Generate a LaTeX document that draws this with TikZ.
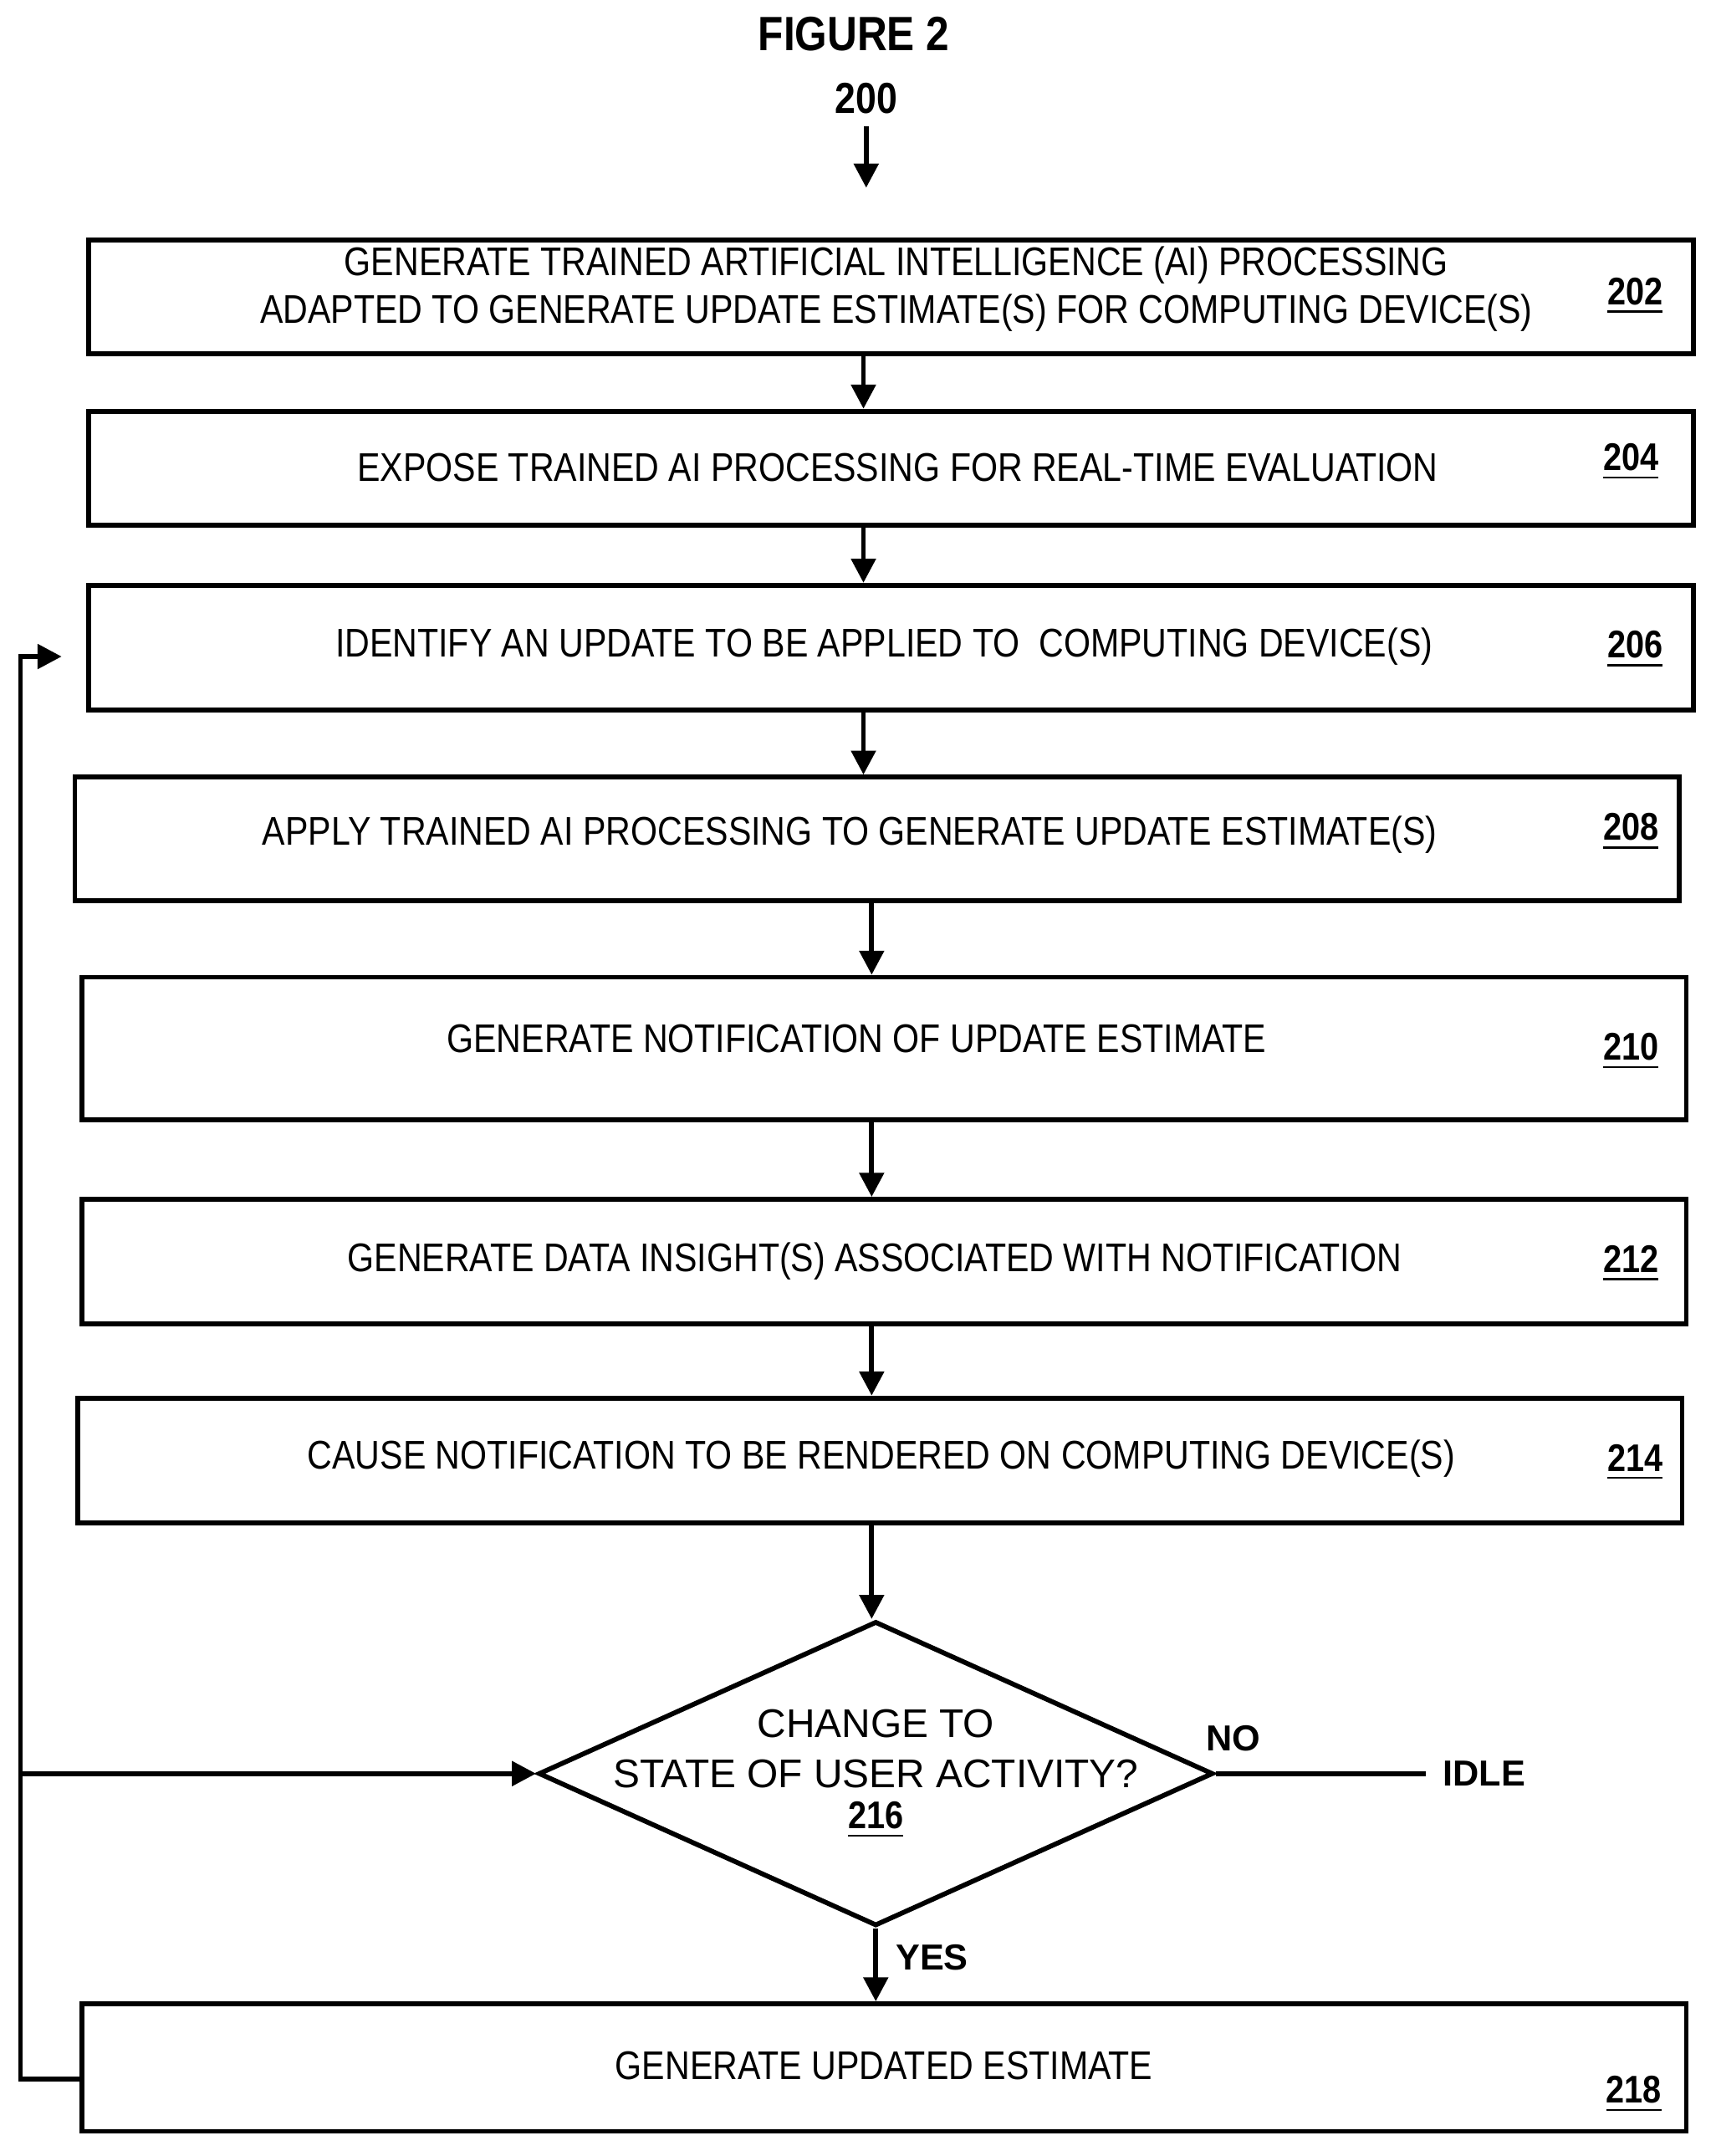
\documentclass[tikz,border=0pt]{standalone}
\usepackage{fontspec}
\setmainfont{Liberation Sans}
\newfontfamily\cond[FakeStretch=0.86]{Liberation Sans}
\usetikzlibrary{shapes.geometric,arrows.meta}
\begin{document}
\begin{tikzpicture}[x=0.01cm,y=-0.01cm,
  box/.style={draw,line width=1pt,rectangle,inner sep=0pt},
  txt/.style={font=\cond\fontsize{8.3}{10}\selectfont,align=center,inner sep=0pt},
  lab/.style={font=\cond\bfseries\fontsize{8}{10}\selectfont,inner sep=0pt},
  arr/.style={line width=1pt,-{Triangle[length=5pt,width=5pt]}}]
\useasboundingbox (0,0) rectangle (1252,1573);
\node[font=\bfseries\cond\fontsize{10}{12}\selectfont] (title) at (623,25) {FIGURE 2};
\node[font=\bfseries\cond\fontsize{9}{11}\selectfont] (n200) at (632,72) {200};
\coordinate (s0) at (632,92);
\node[box,minimum width=1170\pgflinewidth/1pt*0.01cm*0+11.7cm,minimum height=0.83cm] (b202) at (650,216.5) {};
\node[box,minimum width=11.7cm,minimum height=0.83cm] (b204) at (650,341.5) {};
\node[box,minimum width=11.7cm,minimum height=0.91cm] (b206) at (650,472.5) {};
\node[box,minimum width=11.7cm,minimum height=0.90cm] (b208) at (640,612) {};
\node[box,minimum width=11.7cm,minimum height=1.04cm] (b210) at (645,765) {};
\node[box,minimum width=11.7cm,minimum height=0.91cm] (b212) at (645,920.5) {};
\node[box,minimum width=11.7cm,minimum height=0.91cm] (b214) at (642,1065.5) {};
\node[box,diamond,minimum width=4.92cm,minimum height=2.22cm] (d216) at (639,1294) {};
\node[box,minimum width=11.7cm,minimum height=0.93cm] (b218) at (645,1508.5) {};
\node[txt] at (654,211) {GENERATE TRAINED ARTIFICIAL INTELLIGENCE (AI) PROCESSING\\ADAPTED TO GENERATE UPDATE ESTIMATE(S) FOR COMPUTING DEVICE(S)};
\node[txt] at (655,341) {EXPOSE TRAINED AI PROCESSING FOR REAL-TIME EVALUATION};
\node[txt] at (645,472) {IDENTIFY AN UPDATE TO BE APPLIED TO \ COMPUTING DEVICE(S)};
\node[txt] at (620,609) {APPLY TRAINED AI PROCESSING TO GENERATE UPDATE ESTIMATE(S)};
\node[txt] at (625,758) {GENERATE NOTIFICATION OF UPDATE ESTIMATE};
\node[txt] at (638,920) {GENERATE DATA INSIGHT(S) ASSOCIATED WITH NOTIFICATION};
\node[txt] at (643,1064) {CAUSE NOTIFICATION TO BE RENDERED ON COMPUTING DEVICE(S)};
\node[txt] at (645,1507) {GENERATE UPDATED ESTIMATE};
\node[font=\fontsize{8.3}{10.5}\selectfont,align=center,inner sep=0pt] at (639,1276) {CHANGE TO\\STATE OF USER ACTIVITY?};
\node[lab] at (639,1328) {\underline{216}};
\node[lab] at (1193,216) {\underline{202}};
\node[lab] at (1190,337) {\underline{204}};
\node[lab] at (1193,474) {\underline{206}};
\node[lab] at (1190,607) {\underline{208}};
\node[lab] at (1190,767) {\underline{210}};
\node[lab] at (1190,922) {\underline{212}};
\node[lab] at (1193,1067) {\underline{214}};
\node[lab] at (1192,1528) {\underline{218}};
\node[font=\bfseries\fontsize{7.5}{9}\selectfont] (no) at (900,1268) {NO};
\node[font=\bfseries\fontsize{7.5}{9}\selectfont] (idle) at (1083,1294) {IDLE};
\node[font=\bfseries\fontsize{7.5}{9}\selectfont] (yes) at (680,1428) {YES};
\draw[arr] (s0) -- (632,137);
\draw[arr] (b202.south -| 630,0) -- (b204.north -| 630,0);
\draw[arr] (b204.south -| 630,0) -- (b206.north -| 630,0);
\draw[arr] (b206.south -| 630,0) -- (b208.north -| 630,0);
\draw[arr] (b208.south -| 636,0) -- (b210.north -| 636,0);
\draw[arr] (b210.south -| 636,0) -- (b212.north -| 636,0);
\draw[arr] (b212.south -| 636,0) -- (b214.north -| 636,0);
\draw[arr] (b214.south -| 636,0) -- (d216.north -| 636,0);
\draw[arr] (d216.south) -- (b218.north -| d216.south);
\draw[line width=1pt] (d216.east) -- (idle.west);
\coordinate (lp) at (15,1517);
\draw[arr] (b218.west |- lp) -- (lp) -- (15,479) -- (45,479);
\draw[arr] (15,1294) -- (d216.west);
\end{tikzpicture}
\end{document}
